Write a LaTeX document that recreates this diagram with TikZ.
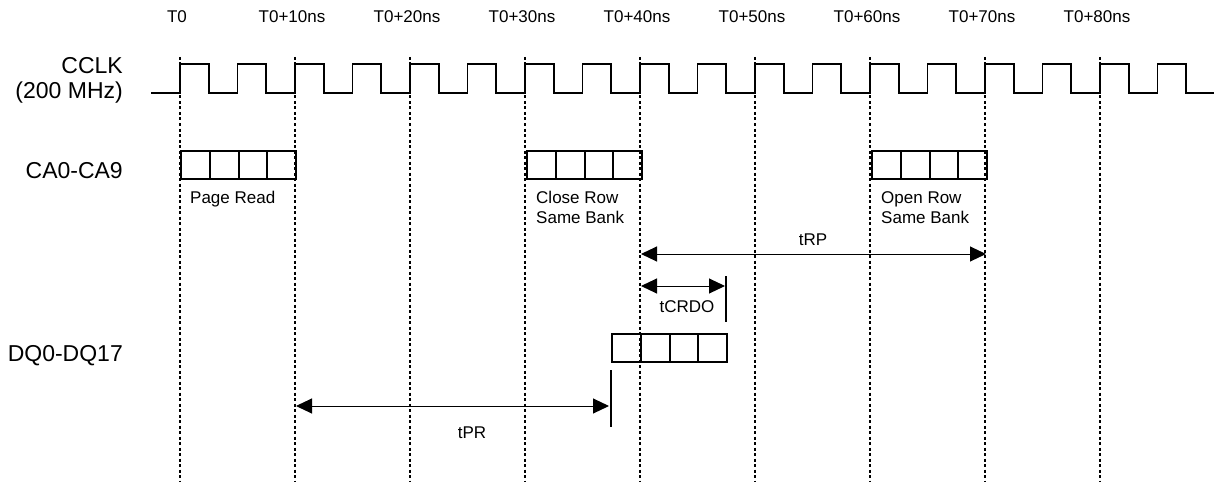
\documentclass[tikz,border=0pt]{standalone}
\usepackage{fontspec}
\setmainfont{Liberation Sans}
\usetikzlibrary{arrows.meta, positioning}

\begin{document}
\begin{tikzpicture}[
    x=1pt, y=-1pt,
    signal/.style={font=\fontsize{23}{29}\selectfont, anchor=base east, inner sep=0pt},
    timelabel/.style={font=\fontsize{17}{20}\selectfont, inner sep=0pt},
    annotation/.style={font=\fontsize{17}{20}\selectfont, align=left, inner sep=0pt},
    gridline/.style={line width=1.2pt, dash pattern=on 3pt off 2.5pt},
    wave/.style={line width=1.9pt},
    cmdbox/.style={rectangle, draw=black, line width=2pt, minimum width=115pt, minimum height=28pt, inner sep=0pt,
        path picture={\foreach \d in {1,2,3} \draw[line width=2pt] ([xshift=\d*28.75pt]path picture bounding box.north west) -- ([xshift=\d*28.75pt]path picture bounding box.south west);}},
    arrow/.style={{Triangle[length=16pt,width=15pt]}-{Triangle[length=16pt,width=15pt]}, line width=1pt},
    marker/.style={line width=1.5pt}
]
\useasboundingbox (0,0) rectangle (1214,484);

% Time grid with labels
\foreach \t [count=\i from 0] in {T0, T0+10ns, T0+20ns, T0+30ns, T0+40ns, T0+50ns, T0+60ns, T0+70ns, T0+80ns} {
    \coordinate (g\i) at (180+115*\i, 57);
    \draw[gridline] (g\i) -- ++(0,425);
    \node[timelabel] (t\i) at (177+115*\i, 17) {\t};
}

% Signal names
\node[signal] (cclk) at (123,73.5) {CCLK};
\node[signal] (cclk-freq) at (123,98.5) {(200 MHz)};
\node[signal] (ca) at (123,178) {CA0-CA9};
\node[signal] (dq) at (123,361) {DQ0-DQ17};

% Clock waveform
\draw[wave] (151,93) -- (180,93)
    \foreach \k in {0,...,17} { -- ++(0,-29) -- ++(28.75,0) -- ++(0,29) -- ++(28.75,0) };

% Command and data boxes
\node[cmdbox, anchor=north west] (pageread) at (180,150) {};
\node[cmdbox, anchor=north west] (closerow) at (526,150) {};
\node[cmdbox, anchor=north west] (openrow) at (871,150) {};
\node[cmdbox, anchor=north west] (dqdata) at (611,333) {};

% Annotations below the commands
\node[annotation, below right=11pt and 10pt of pageread.south west] (pageread-anno) {Page Read};
\node[annotation, below right=11pt and 10pt of closerow.south west] (closerow-anno) {Close Row\\Same Bank};
\node[annotation, below right=11pt and 10pt of openrow.south west] (openrow-anno) {Open Row\\Same Bank};

% Timing parameters
\coordinate (trp-start) at (641,254);
\coordinate (trp-end) at (986,254);
\draw[arrow] (trp-start) -- (trp-end);
\node[timelabel] (trp) at (813,240) {tRP};

\coordinate (crdo-top) at (726,276);
\coordinate (crdo-bot) at (726,322);
\coordinate (crdo-start) at (641,286);
\coordinate (crdo-end) at (725,286);
\draw[marker] (crdo-top) -- (crdo-bot);
\draw[arrow] (crdo-start) -- (crdo-end);
\node[timelabel] (tcrdo) at (687,307) {tCRDO};

\coordinate (pr-top) at (611,370);
\coordinate (pr-bot) at (611,427);
\coordinate (pr-start) at (296,406);
\coordinate (pr-end) at (609,406);
\draw[marker] (pr-top) -- (pr-bot);
\draw[arrow] (pr-start) -- (pr-end);
\node[timelabel] (tpr) at (472,433) {tPR};

\end{tikzpicture}
\end{document}
